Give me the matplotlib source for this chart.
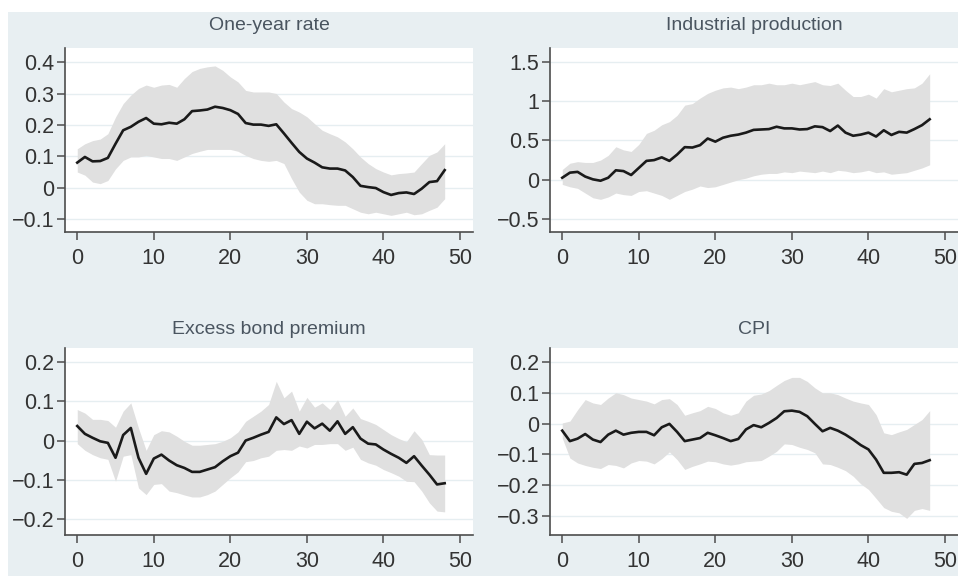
import numpy as np
import matplotlib
matplotlib.use("Agg")
import matplotlib.pyplot as plt
from matplotlib.patches import Rectangle

plt.rcParams["font.family"] = ["Liberation Sans", "DejaVu Sans"]

horizon = list(range(49))

titles = ["One-year rate", "Industrial production", "Excess bond premium", "CPI"]

one_year = [0.080, 0.098, 0.084, 0.085, 0.095, 0.140, 0.183, 0.194, 0.210, 0.222,
            0.204, 0.202, 0.207, 0.204, 0.218, 0.244, 0.246, 0.249, 0.258, 0.254,
            0.247, 0.235, 0.206, 0.201, 0.201, 0.197, 0.202, 0.173, 0.143, 0.114,
            0.093, 0.080, 0.065, 0.061, 0.061, 0.055, 0.034, 0.006, 0.002, -0.001,
            -0.014, -0.023, -0.017, -0.015, -0.020, -0.003, 0.018, 0.021, 0.056]
one_year_hi = [0.124, 0.140, 0.150, 0.155, 0.172, 0.225, 0.268, 0.295, 0.316, 0.327,
               0.320, 0.327, 0.329, 0.320, 0.348, 0.370, 0.380, 0.385, 0.388, 0.374,
               0.353, 0.337, 0.310, 0.305, 0.305, 0.305, 0.300, 0.273, 0.252, 0.241,
               0.226, 0.204, 0.183, 0.172, 0.162, 0.146, 0.124, 0.098, 0.077, 0.061,
               0.050, 0.041, 0.045, 0.047, 0.050, 0.077, 0.103, 0.114, 0.140]
one_year_lo = [0.050, 0.040, 0.018, 0.013, 0.023, 0.060, 0.087, 0.098, 0.098, 0.103,
               0.098, 0.093, 0.093, 0.087, 0.098, 0.109, 0.116, 0.122, 0.122, 0.122,
               0.122, 0.116, 0.103, 0.093, 0.087, 0.084, 0.087, 0.077, 0.029, -0.014,
               -0.040, -0.051, -0.051, -0.054, -0.056, -0.056, -0.067, -0.078, -0.083, -0.078,
               -0.083, -0.088, -0.083, -0.078, -0.086, -0.083, -0.072, -0.062, -0.035]

ip = [0.025, 0.090, 0.100, 0.040, 0.005, -0.013, 0.025, 0.120, 0.110, 0.060,
      0.150, 0.240, 0.250, 0.285, 0.240, 0.320, 0.415, 0.410, 0.440, 0.525,
      0.485, 0.535, 0.560, 0.575, 0.600, 0.635, 0.640, 0.645, 0.675, 0.654,
      0.654, 0.640, 0.645, 0.680, 0.670, 0.620, 0.690, 0.600, 0.560, 0.575,
      0.600, 0.550, 0.630, 0.570, 0.610, 0.600, 0.645, 0.695, 0.770]
ip_hi = [0.130, 0.210, 0.230, 0.220, 0.220, 0.250, 0.310, 0.420, 0.380, 0.360,
         0.450, 0.590, 0.630, 0.700, 0.740, 0.820, 0.950, 0.970, 1.040, 1.100,
         1.140, 1.170, 1.180, 1.160, 1.180, 1.210, 1.210, 1.230, 1.210, 1.210,
         1.230, 1.210, 1.230, 1.250, 1.210, 1.200, 1.230, 1.140, 1.060, 1.060,
         1.090, 1.040, 1.160, 1.120, 1.140, 1.160, 1.170, 1.230, 1.350]
ip_lo = [-0.060, -0.090, -0.110, -0.170, -0.230, -0.250, -0.220, -0.170, -0.190, -0.200,
         -0.150, -0.140, -0.170, -0.200, -0.250, -0.200, -0.150, -0.120, -0.080, -0.100,
         -0.090, -0.060, -0.030, 0.000, 0.020, 0.050, 0.070, 0.080, 0.080, 0.100,
         0.090, 0.110, 0.100, 0.090, 0.110, 0.090, 0.120, 0.110, 0.090, 0.100,
         0.120, 0.090, 0.100, 0.070, 0.080, 0.090, 0.120, 0.150, 0.190]

ebp = [0.037, 0.017, 0.007, -0.002, -0.006, -0.044, 0.014, 0.032, -0.044, -0.085,
       -0.046, -0.036, -0.051, -0.063, -0.070, -0.080, -0.080, -0.074, -0.068, -0.053,
       -0.040, -0.031, 0.000, 0.007, 0.015, 0.022, 0.059, 0.042, 0.052, 0.017,
       0.048, 0.031, 0.043, 0.025, 0.049, 0.017, 0.034, 0.005, -0.008, -0.010,
       -0.023, -0.034, -0.044, -0.057, -0.040, -0.064, -0.087, -0.112, -0.109]
ebp_hi = [0.079, 0.070, 0.054, 0.054, 0.051, 0.034, 0.075, 0.096, 0.032, -0.025,
          0.015, 0.025, 0.022, 0.011, -0.002, -0.012, -0.012, -0.010, -0.008, -0.002,
          0.007, 0.022, 0.049, 0.062, 0.075, 0.092, 0.151, 0.109, 0.126, 0.075,
          0.110, 0.085, 0.096, 0.079, 0.104, 0.062, 0.083, 0.056, 0.049, 0.041,
          0.028, 0.015, 0.005, -0.003, 0.025, 0.003, -0.036, -0.037, -0.037]
ebp_lo = [-0.008, -0.025, -0.036, -0.044, -0.048, -0.104, -0.040, -0.036, -0.121, -0.138,
          -0.112, -0.110, -0.129, -0.133, -0.139, -0.144, -0.144, -0.138, -0.129, -0.112,
          -0.095, -0.080, -0.054, -0.051, -0.044, -0.040, -0.025, -0.023, -0.025, -0.014,
          -0.019, -0.010, -0.010, -0.008, -0.008, -0.025, -0.017, -0.048, -0.057, -0.063,
          -0.074, -0.082, -0.091, -0.104, -0.105, -0.129, -0.159, -0.180, -0.182]

cpi = [-0.023, -0.057, -0.049, -0.034, -0.052, -0.060, -0.036, -0.023, -0.036, -0.030,
       -0.027, -0.027, -0.038, -0.012, -0.001, -0.027, -0.057, -0.052, -0.047, -0.030,
       -0.038, -0.047, -0.057, -0.050, -0.019, -0.005, -0.012, 0.002, 0.018, 0.040,
       0.042, 0.038, 0.024, -0.001, -0.025, -0.014, -0.023, -0.036, -0.052, -0.070,
       -0.084, -0.117, -0.160, -0.160, -0.158, -0.166, -0.131, -0.128, -0.119]
cpi_hi = [0.002, 0.008, 0.045, 0.078, 0.067, 0.062, 0.083, 0.100, 0.094, 0.083,
          0.078, 0.073, 0.064, 0.078, 0.081, 0.062, 0.027, 0.035, 0.042, 0.056,
          0.049, 0.035, 0.027, 0.035, 0.073, 0.092, 0.096, 0.107, 0.124, 0.140,
          0.150, 0.150, 0.137, 0.116, 0.100, 0.100, 0.094, 0.083, 0.073, 0.067,
          0.062, 0.029, -0.030, -0.036, -0.027, -0.019, -0.003, 0.013, 0.042]
cpi_lo = [-0.047, -0.112, -0.128, -0.136, -0.142, -0.146, -0.133, -0.136, -0.144, -0.128,
          -0.120, -0.122, -0.131, -0.114, -0.092, -0.117, -0.149, -0.139, -0.131, -0.122,
          -0.124, -0.131, -0.135, -0.131, -0.124, -0.122, -0.120, -0.106, -0.090, -0.066,
          -0.068, -0.077, -0.084, -0.095, -0.131, -0.133, -0.142, -0.153, -0.171, -0.196,
          -0.214, -0.243, -0.273, -0.285, -0.290, -0.308, -0.282, -0.276, -0.282]

yticks = [[-0.1, 0, 0.1, 0.2, 0.3, 0.4],
          [-0.5, 0, 0.5, 1, 1.5],
          [-0.2, -0.1, 0, 0.1, 0.2],
          [-0.3, -0.2, -0.1, 0, 0.1, 0.2]]
ytick_labels = [["\u22120.1", "0", "0.1", "0.2", "0.3", "0.4"],
                ["\u22120.5", "0", "0.5", "1", "1.5"],
                ["\u22120.2", "\u22120.1", "0", "0.1", "0.2"],
                ["\u22120.3", "\u22120.2", "\u22120.1", "0", "0.1", "0.2"]]
xticks = [0, 10, 20, 30, 40, 50]

series = [(one_year, one_year_lo, one_year_hi),
          (ip, ip_lo, ip_hi),
          (ebp, ebp_lo, ebp_hi),
          (cpi, cpi_lo, cpi_hi)]

W, H = 958, 576
BG = "#e8eff2"
# panel boxes in pixels: left, top, right, bottom
boxes = [(65, 48, 473, 232), (550, 48, 958, 232),
         (65, 348, 473, 535), (550, 348, 958, 535)]
ylims = [(-0.141, 0.445), (-0.666, 1.678), (-0.241, 0.236), (-0.362, 0.2455)]
title_y = [26, 26, 330, 330]

fig = plt.figure(figsize=(W / 100, H / 100), dpi=100, facecolor="white")
fig.patches.append(Rectangle((8 / W, 0), 1 - 8 / W, 1 - 12 / H,
                             transform=fig.transFigure, facecolor=BG,
                             edgecolor="none", zorder=-10))

for k in range(4):
    l, t, r, b = boxes[k]
    ax = fig.add_axes([l / W, 1 - b / H, (r - l) / W, (b - t) / H])
    ax.set_facecolor("white")
    mid, lo, hi = series[k]
    ax.fill_between(horizon, lo, hi, color="#e0e0e0", linewidth=0, zorder=2)
    ax.plot(horizon, mid, color="#1a1a1a", linewidth=1.9, zorder=3)
    ax.set_xlim(-1.6, 51.7)
    ax.set_ylim(*ylims[k])
    ax.set_yticks(yticks[k])
    ax.set_yticklabels(ytick_labels[k])
    ax.set_xticks(xticks)
    ax.grid(axis="y", color="#e6eef1", linewidth=1.0, zorder=1)
    ax.set_axisbelow(True)
    for s in ("top", "right"):
        ax.spines[s].set_visible(False)
    for s in ("left", "bottom"):
        ax.spines[s].set_color("#4d4d4d")
        ax.spines[s].set_linewidth(1.2)
    ax.tick_params(axis="both", colors="#4d4d4d", labelcolor="#333333",
                   labelsize=15.5, length=5.5, width=1.1)
    ax.tick_params(axis="x", pad=6)
    ax.tick_params(axis="y", pad=2)
    fig.text((l + r) / 2 / W, 1 - title_y[k] / H, titles[k], ha="center",
             va="center", fontsize=14, color="#4a5560")

fig.savefig("out.png", dpi=100, facecolor=fig.get_facecolor())
